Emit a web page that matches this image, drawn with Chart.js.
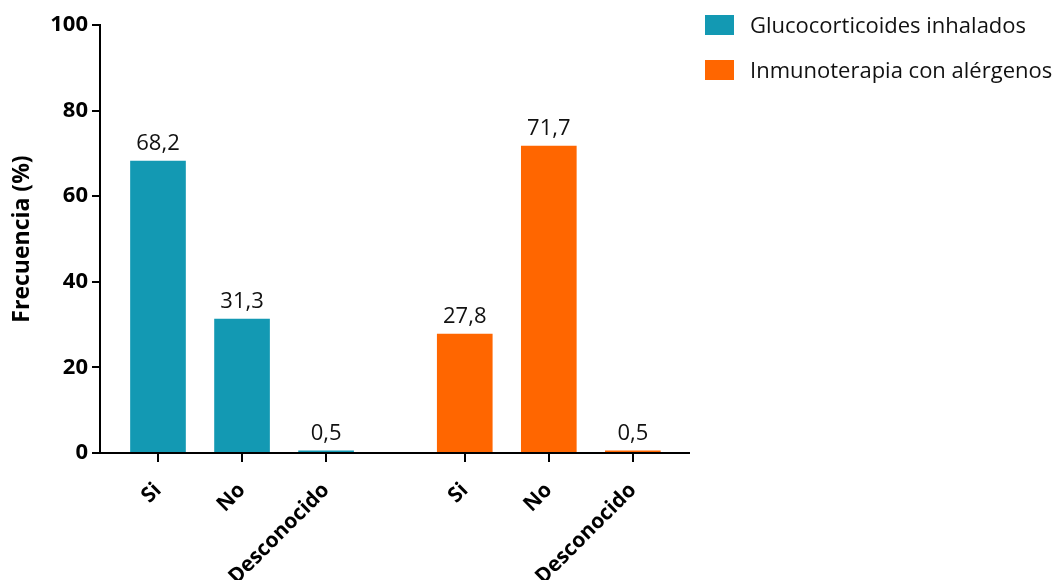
<!DOCTYPE html>
<html>
<head>
<meta charset="utf-8">
<script src="https://cdn.jsdelivr.net/npm/chart.js@4"></script>
<style>
	body { margin: 0; background: #fff; }
	#wrap { position: relative; width: 1055px; height: 580px; }
	.legend { position: absolute; left: 705px; font: 22px 'Open Sans', sans-serif; color: #111; white-space: nowrap; }
	.legend span { display: inline-block; width: 29px; height: 20px; vertical-align: middle; margin-right: 16px; position: relative; top: -2px; }
</style>
</head>
<body>
<div id="wrap">
	<canvas id="chart"></canvas>
	<div class="legend" style="top:9px"><span style="background:#1399b3"></span>Glucocorticoides inhalados</div>
	<div class="legend" style="top:54px"><span style="background:#ff6600"></span>Inmunoterapia con alérgenos</div>
</div>
<script>
// categorias de cada grupo (eje x)
const categories = ['Si', 'No', 'Desconocido'];
const seriesNames = ['Glucocorticoides inhalados', 'Inmunoterapia con alérgenos'];
const glucocorticoides = [68.2, 31.3, 0.5];
const inmunoterapia = [27.8, 71.7, 0.5];
const yTicks = [0, 20, 40, 60, 80, 100];

const colors = ['#1399b3', '#ff6600'];
const groupGap = 0.65; // espacio extra entre los dos grupos

// posicion de cada barra en el eje lineal
function pos(group, i) {
	return group * (categories.length + groupGap) + i;
}

const tickPos = [];
const tickLabels = [];
[0, 1].forEach(g => categories.forEach((c, i) => {
	tickPos.push(pos(g, i));
	tickLabels.push(c);
}));

const datasets = [glucocorticoides, inmunoterapia].map((vals, g) => ({
	label: seriesNames[g],
	data: vals.map((v, i) => ({x: pos(g, i), y: v})),
	backgroundColor: colors[g],
	barThickness: 55
}));

// etiquetas de valor encima de cada barra
const valueLabels = {
	id: 'valueLabels',
	afterDatasetsDraw(chart) {
		const ctx = chart.ctx;
		ctx.save();
		ctx.font = '22px "Open Sans"';
		ctx.fillStyle = '#111';
		ctx.textAlign = 'center';
		ctx.textBaseline = 'alphabetic';
		chart.data.datasets.forEach((ds, d) => {
			chart.getDatasetMeta(d).data.forEach((el, i) => {
				const txt = ds.data[i].y.toFixed(1).replace('.', ',');
				ctx.fillText(txt, el.x, el.y - 11);
			});
		});
		ctx.restore();
	}
};

// linea del eje x, que empieza un poco a la izquierda del eje y
const xAxisLine = {
	id: 'xAxisLine',
	afterDraw(chart) {
		const ctx = chart.ctx;
		const y0 = chart.scales.y.getPixelForValue(0);
		ctx.save();
		ctx.strokeStyle = '#000';
		ctx.lineWidth = 2;
		ctx.beginPath();
		ctx.moveTo(chart.chartArea.left - 8, y0);
		ctx.lineTo(chart.chartArea.right, y0);
		ctx.stroke();
		ctx.restore();
	}
};

new Chart(document.getElementById('chart'), {
	type: 'bar',
	data: {datasets: datasets},
	options: {
		responsive: true,
		maintainAspectRatio: false,
		animation: false,
		grouped: false,
		layout: {padding: {top: 25, right: 365, left: 0, bottom: 0}},
		plugins: {
			legend: {display: false},
			tooltip: {enabled: false}
		},
		scales: {
			x: {
				type: 'linear',
				offset: false,
				min: -0.69,
				max: 6.33,
				afterBuildTicks: s => { s.ticks = tickPos.map(v => ({value: v})); },
				afterFit: s => { s.height = 127; },
				border: {display: false},
				grid: {offset: false, drawOnChartArea: false, drawTicks: true, tickLength: 9, color: '#000', lineWidth: 2},
				ticks: {
					autoSkip: false,
					minRotation: 45,
					maxRotation: 45,
					padding: 16,
					color: '#000',
					font: {family: 'Open Sans', size: 21, weight: 'bold'},
					callback: (v, i) => tickLabels[i]
				}
			},
			y: {
				min: 0,
				max: 100,
				afterBuildTicks: s => { s.ticks = yTicks.map(v => ({value: v})); },
				afterFit: s => { s.width = 100; },
				border: {display: true, color: '#000', width: 2},
				grid: {drawOnChartArea: false, drawTicks: true, tickLength: 8, color: '#000', lineWidth: 2},
				ticks: {
					padding: 4,
					color: '#000',
					font: {family: 'Open Sans', size: 22, weight: 'bold'}
				},
				title: {
					display: true,
					text: 'Frecuencia (%)',
					color: '#000',
					padding: {top: 9, bottom: 0},
					font: {family: 'Open Sans', size: 23, weight: 'bold'}
				}
			}
		}
	},
	plugins: [valueLabels, xAxisLine]
});
</script>
</body>
</html>
